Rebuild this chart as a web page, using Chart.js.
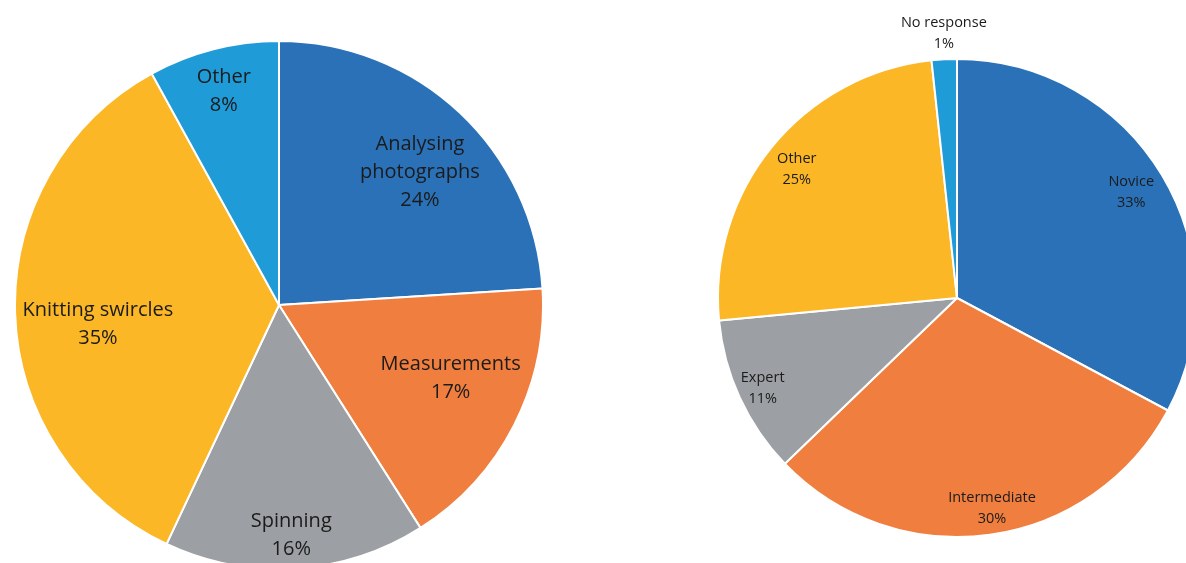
<!DOCTYPE html>
<html>
<head>
<meta charset="utf-8">
<script src="https://cdn.jsdelivr.net/npm/chart.js@4"></script>
<style>
  html, body { margin: 0; padding: 0; background: #fff; overflow: hidden; width: 1186px; height: 563px; }
  .box { position: absolute; }
  #left { left: 14px; top: 40px; width: 530px; height: 530px; }
  #right { left: 657px; top: -2px; width: 600px; height: 600px; }
</style>
</head>
<body>
<div class="box" id="left"><canvas id="c1"></canvas></div>
<div class="box" id="right"><canvas id="c2"></canvas></div>
<script>
// torta sinistra: attività
const leftLabels = [['Analysing', 'photographs'], ['Measurements'], ['Spinning'], ['Knitting swircles'], ['Other']];
const leftValues = [24, 17, 16, 35, 8];
const leftPct = ['24%', '17%', '16%', '35%', '8%'];

// torta destra: livello di esperienza
const rightLabels = [['Novice'], ['Intermediate'], ['Expert'], ['Other'], ['No response']];
const rightValues = [32.8, 30, 10.7, 24.8, 1.7];
const rightPct = ['33%', '30%', '11%', '25%', '1%'];

const colors = ['#2A71B8', '#F07E3E', '#9C9FA3', '#FBB726', '#1F9BD7'];

// etichette "best fit" stile Excel: testo lungo la bisettrice dello spicchio,
// con un piccolo scostamento per etichetta dove Excel le sposta
const sliceLabels = {
  id: 'sliceLabels',
  afterDatasetsDraw(chart, args, opts) {
    const { ctx } = chart;
    const meta = chart.getDatasetMeta(0);
    ctx.save();
    ctx.fillStyle = '#1b1b1b';
    ctx.font = opts.size + 'px "Open Sans", "Liberation Sans", sans-serif';
    ctx.textAlign = 'center';
    ctx.textBaseline = 'middle';
    meta.data.forEach((arc, i) => {
      const mid = (arc.startAngle + arc.endAngle) / 2;
      const r = arc.outerRadius * opts.dist[i];
      const [nx, ny] = opts.nudge ? opts.nudge[i] : [0, 0];
      const x = arc.x + Math.cos(mid) * r + nx;
      const y = arc.y + Math.sin(mid) * r + ny;
      const lines = [...opts.names[i], opts.pct[i]];
      const top = y - (lines.length - 1) * opts.lh / 2;
      lines.forEach((t, k) => ctx.fillText(t, x, top + k * opts.lh));
    });
    ctx.restore();
  }
};

const pieCfg = (labels, values, labelOpts, pad) => ({
  type: 'pie',
  data: {
    labels: labels.map(l => l.join(' ')),
    datasets: [{ data: values, backgroundColor: colors, borderColor: '#fff', borderWidth: 2 }]
  },
  options: {
    responsive: true,
    maintainAspectRatio: false,
    animation: false,
    layout: { padding: pad },
    plugins: { legend: { display: false }, tooltip: { enabled: false }, sliceLabels: labelOpts }
  },
  plugins: [sliceLabels]
});

new Chart(document.getElementById('c1'), pieCfg(leftLabels, leftValues, {
  names: leftLabels, pct: leftPct, size: 20, lh: 28,
  dist: [0.73, 0.70, 0.86, 0.69, 0.84],
  nudge: [[9, 8], [7, -11], [-2, 4], [1, 14], [0, 1]]
}, 0));

new Chart(document.getElementById('c2'), pieCfg(rightLabels, rightValues, {
  names: rightLabels, pct: rightPct, size: 14.5, lh: 21,
  dist: [0.85, 0.88, 0.89, 0.86, 1.11],
  nudge: [[0, -1], [6, 2], [-1, 2], [-1, 1], [1, 0]]
}, 60));
</script>
</body>
</html>
